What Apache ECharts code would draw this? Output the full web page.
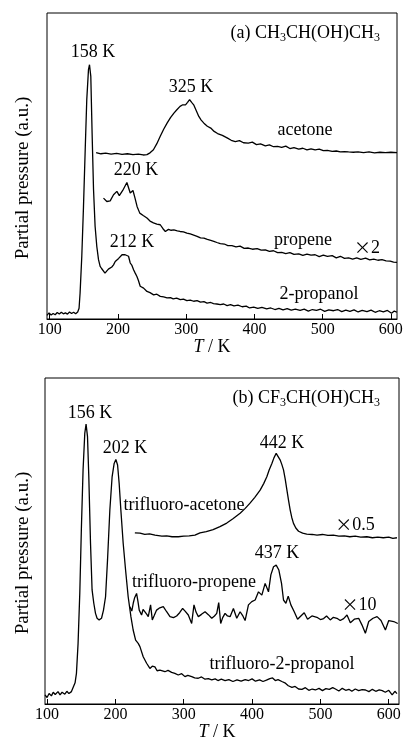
<!DOCTYPE html>
<html>
<head>
<meta charset="utf-8">
<title>TPD spectra</title>
<script src="https://cdn.jsdelivr.net/npm/echarts@6/dist/echarts.min.js"></script>
<style>
  html, body { margin: 0; padding: 0; background: #fff; }
  #chart { width: 408px; height: 748px; }
</style>
</head>
<body>
<div id="chart"></div>
<script>
// 横轴刻度
const tickValues = [100, 200, 300, 400, 500, 600];

// (a) CH3CH(OH)CH3 —— 温度 / 分压（任意单位）
const propanolT = [96, 99, 102, 105, 108, 111, 114, 117, 120, 123, 126, 129, 132, 135, 138, 141,
  143, 144.5, 147, 149.5, 152, 154.3, 156.8, 158.3, 160.2, 162.1, 164.2, 166.5, 169, 171.5, 173.9, 176, 178.8,
  181, 183.7, 186, 188.6, 191, 193.5, 196, 198.4, 201, 203.3, 206, 208.2, 210.5, 213.1, 215.5, 218, 220.5,
  222.9, 225.3, 227.8, 230, 232.6, 235, 237.6, 240, 242.5, 247, 252.3, 257, 262, 267, 271.9, 277, 281, 286,
  291.4, 296, 301, 306, 311, 316, 321, 326, 330.6, 336, 340, 345, 350, 355, 360, 365, 370, 376, 382, 388,
  393, 399, 405, 411, 418, 424, 430, 436, 442, 448, 454, 460, 467, 473, 479, 485, 491, 497, 503, 509, 516,
  522, 528, 534, 540, 546, 552, 558, 565, 571, 577, 583, 589, 595, 601, 605, 609];
const propanolP = [1.2, 2.0, 1.3, 1.8, 1.4, 2.1, 1.6, 2.2, 1.7, 2.0, 1.6, 2.3, 1.8, 2.2, 1.7, 2.3,
  3.5, 8.5, 20.5, 36.8, 55.3, 71.7, 81.5, 83.1, 79.3, 60.8, 42.3, 30.3, 23.7, 19.4, 17.2, 16.5, 16.1,
  15.0, 15.2, 16.3, 16.1, 17.0, 17.7, 18.8, 18.5, 19.8, 20.2, 21.0, 21.6, 21.0, 21.3, 20.5, 18.3, 17.5,
  16.1, 15.0, 13.9, 12.6, 10.7, 10.9, 10.1, 9.6, 9.0, 8.6, 7.9, 8.1, 7.4, 7.2, 6.9, 7.0, 6.6, 6.8,
  6.3, 6.5, 6.0, 6.2, 5.8, 6.0, 5.5, 5.7, 5.2, 5.4, 5.0, 4.9, 4.7, 4.9, 4.4, 4.7, 4.3, 4.5, 4.0, 4.2,
  3.6, 3.9, 3.5, 3.8, 3.3, 3.6, 3.1, 3.5, 3.0, 3.4, 2.9, 3.2, 2.8, 3.2, 2.6, 3.1, 2.8, 3.2, 2.5, 3.0, 2.7,
  3.1, 2.4, 2.9, 2.5, 3.0, 2.3, 2.8, 2.4, 2.9, 2.2, 2.7, 2.3, 2.8, 1.9, 2.6, 2.2];

const acetoneT = [168, 175, 182, 190, 198, 206, 214, 222, 230, 237, 242.5, 247, 252, 257, 262, 267, 272,
  277, 282, 286, 291, 295, 299, 302, 305, 308, 311, 315, 318.5, 322, 326, 331, 336, 341, 346, 353, 360,
  366, 372, 378, 384, 391, 397, 403, 409, 416, 422, 428, 434, 440, 446, 452, 458, 465, 471, 477, 483,
  489, 495, 501, 507, 514, 520, 526, 532, 538, 545, 552, 560, 568, 576, 584, 592, 600, 609];
const acetoneP = [54.4, 54.0, 54.2, 53.9, 54.1, 53.8, 54.0, 53.7, 53.9, 53.6, 53.7, 54.3, 55.3, 57.3,
  59.7, 62.0, 64.0, 65.8, 67.3, 68.3, 69.5, 70.0, 70.0, 70.8, 71.7, 70.8, 70.0, 68.0, 66.2, 65.0, 64.0,
  63.0, 62.4, 61.3, 60.6, 60.0, 59.2, 58.4, 58.0, 58.3, 57.6, 57.5, 57.8, 57.0, 57.2, 56.6, 56.9, 56.3,
  56.4, 56.1, 56.5, 55.7, 56.0, 55.5, 55.8, 55.3, 55.6, 55.3, 55.5, 55.0, 55.1, 54.8, 54.9, 54.6, 54.7,
  54.6, 54.5, 54.6, 54.4, 54.6, 54.3, 54.5, 54.4, 54.5, 54.4];

const propeneT = [178.8, 183.7, 188.6, 193.5, 198.4, 202, 207, 213.1, 218, 222, 225, 228, 232, 237,
  242.5, 247, 252, 257, 262, 266, 269.5, 274, 278, 282, 287, 291, 296, 301, 306, 311, 316, 321, 326, 331,
  336, 340.5, 345, 350, 356, 361, 367, 373, 379, 385, 391, 397, 404, 410, 416, 422, 428, 434, 440, 446,
  452, 458, 465, 471, 477, 483, 489, 495, 501, 507, 514, 520, 526, 532, 538, 544, 550, 556, 563, 569,
  575, 581, 587, 593, 599, 604, 609];
const propeneP = [39.5, 38.4, 38.6, 40.6, 41.7, 40.3, 42.0, 44.6, 41.2, 42.0, 39.5, 36.8, 34.6, 33.8,
  33.0, 32.0, 31.4, 31.0, 30.8, 29.5, 28.6, 29.3, 29.0, 29.1, 28.8, 28.6, 28.5, 28.1, 27.8, 27.4, 27.0,
  26.5, 26.4, 26.0, 25.7, 25.4, 25.0, 24.6, 24.5, 24.0, 24.0, 23.6, 23.8, 23.1, 23.2, 22.8, 23.0, 22.5,
  22.6, 22.1, 22.3, 21.7, 21.8, 21.4, 21.7, 21.1, 21.3, 20.8, 21.2, 20.9, 21.0, 20.4, 20.9, 20.5, 20.7,
  20.0, 20.5, 19.8, 20.0, 19.6, 20.0, 19.5, 19.9, 19.3, 19.6, 19.2, 19.4, 19.0, 18.9, 18.6, 18.5];

// (b) CF3CH(OH)CH3
const tfPropanolT = [97, 100, 103, 106.4, 109, 112, 116, 119, 122, 126, 129, 132, 135.7, 138, 141, 143,
  145.4, 147.9, 150.3, 152.7, 155.2, 157.1, 159.2, 161.1, 163.6, 165.9, 168.4, 170.9, 173.2, 176.2, 179.7,
  182.6, 185.6, 188.5, 191.9, 195.2, 198.2, 200.7, 203.2, 205.5, 208, 211.4, 214.9, 218.7, 222.7, 226,
  229.6, 233.4, 235.9, 238, 240.7, 245.7, 248, 250.5, 254, 257.8, 261, 265.2, 268, 272.5, 277, 282.3,
  287, 292, 297, 301.8, 306, 311.7, 316, 321.3, 326, 331.2, 336, 341, 346, 350, 355, 360.5, 366, 372,
  378, 384, 390, 395, 400, 405, 411, 416, 421, 426, 430, 434, 438, 443.6, 448, 453, 458.3, 463, 468,
  473, 478, 483, 488, 492.7, 498, 503, 508, 513, 518, 522, 527, 532, 537, 541.7, 546, 551, 556, 561,
  566, 571, 576, 581, 586, 590.5, 595, 600, 605, 609, 612];
const tfPropanolP = [2.8, 2.0, 3.2, 2.5, 3.6, 2.9, 3.8, 2.8, 3.6, 3.0, 3.9, 3.2, 3.8, 4.3, 6.5, 9.4,
  18.6, 34.0, 54.4, 71.8, 83.0, 85.9, 82.0, 69.7, 49.3, 35.0, 30.9, 27.8, 26.3, 25.8, 26.3,
  28.8, 32.9, 44.2, 59.5, 69.7, 73.8, 75.0, 73.3, 67.7, 59.5, 49.3, 41.1, 32.9, 26.8, 22.7,
  19.6, 18.6, 17.6, 18.2, 14.5, 12.5, 13.0, 10.9, 11.6, 11.4, 10.2, 10.4, 10.9, 9.9, 10.3, 9.7,
  9.4, 8.9, 9.3, 8.4, 8.8, 8.4, 8.0, 7.9, 8.3, 7.6, 7.8, 7.4, 7.7, 7.2, 7.6, 7.2, 7.5, 6.9,
  7.4, 7.0, 7.5, 7.2, 7.7, 7.0, 7.4, 6.9, 7.3, 7.8, 8.0, 7.2, 7.5, 6.9, 6.5, 5.6, 5.1, 5.4, 4.6,
  4.5, 5.0, 4.2, 4.6, 4.3, 4.8, 4.1, 4.7, 4.5, 5.0, 4.6, 4.0, 4.8, 4.2, 4.5, 3.9, 4.6, 4.1, 4.4,
  4.3, 3.8, 4.5, 3.9, 4.3, 4.1, 3.6, 4.2, 2.8, 3.9, 3.2];

const tfAcetoneT = [228.5, 236, 243, 250, 258, 268, 275, 283, 292, 300, 308, 316.4, 323.8, 333, 343,
  353, 363, 372, 382.5, 390, 397, 404, 411.8, 417, 421.6, 425, 429, 432, 435.3, 438, 441, 443.5, 446,
  448.5, 451, 453.5, 455.8, 458, 460.6, 464, 468, 474, 480, 488, 495, 503, 511, 519, 527, 535, 543,
  551, 559, 568, 576, 584, 592, 600, 606, 612];
const tfAcetoneP = [52.5, 52.4, 52.0, 52.2, 51.8, 51.5, 51.6, 51.3, 51.3, 51.5, 51.6, 51.8, 52.5, 52.9,
  53.5, 54.4, 55.5, 56.8, 58.5, 60.0, 61.6, 63.4, 65.6, 67.6, 69.7, 71.8, 73.8, 75.5, 76.9, 76.4, 74.9,
  73.5, 71.8, 69.0, 65.6, 62.3, 59.5, 57.3, 55.4, 54.0, 53.0, 52.4, 52.1, 52.0, 51.8, 52.0, 51.7, 51.8,
  51.5, 51.6, 51.3, 51.5, 51.2, 51.3, 51.0, 51.2, 51.0, 51.2, 50.8, 51.0];

const tfPropeneT = [221.2, 224, 226.1, 228, 231, 233, 234.9, 238.3, 240.5, 243.2, 246, 248.1, 251.5, 254,
  257, 260.3, 265, 270.1, 275, 279.9, 285, 289.6, 294, 298.4, 302, 306.7, 311.6, 315, 318, 321.4, 326,
  331.2, 336, 341, 345, 348.3, 351.2, 354.1, 357, 360.5, 364, 367.8, 372.7, 377.6, 382.5, 386, 389.8,
  394.7, 399.6, 404.5, 409.4, 414.3, 419.1, 424, 427.5, 431.4, 435.3, 439.2, 443.1, 446, 449.5, 452.9,
  456.8, 461.7, 466.6, 471.4, 476.3, 481.2, 487.6, 494.9, 500, 504.7, 509, 514.4, 519, 524.2, 529, 534,
  538.9, 543.8, 549.6, 556, 560.9, 565.8, 570.7, 577, 582.9, 588.7, 595.1, 600, 607.3, 613.2];
const tfPropeneP = [29.8, 28.5, 30.9, 32.5, 33.9, 31.5, 28.8, 27.3, 29.0, 29.3, 27.5, 26.8, 30.4, 25.8,
  27.2, 28.8, 29.5, 29.9, 28.3, 26.8, 26.5, 27.0, 28.0, 29.3, 28.5, 27.3, 24.7, 30.4, 28.2, 26.8, 27.5,
  28.3, 27.4, 26.3, 27.0, 27.8, 31.1, 24.7, 26.5, 27.8, 27.0, 26.8, 29.3, 26.3, 28.3, 27.2, 25.6,
  30.4, 31.4, 31.9, 34.4, 33.4, 37.0, 34.4, 39.6, 42.1, 42.6, 41.1, 37.0, 31.9, 30.9, 33.1,
  30.4, 28.3, 26.0, 27.0, 28.0, 26.0, 27.0, 26.6, 25.9, 26.2, 27.0, 25.8, 26.6, 26.3, 25.6, 26.2,
  27.3, 24.9, 26.0, 26.3, 24.2, 21.7, 25.3, 26.3, 26.8, 25.6, 22.7, 25.6, 25.3, 24.7];

const FONT = '"Liberation Serif", "DejaVu Serif", serif';
const CJK = '"Noto Sans CJK SC", sans-serif';

function pairs(xs, ys) {
    return xs.map((x, i) => [x, ys[i]]);
}

function curve(grid, xs, ys) {
    return {
        type: 'line',
        xAxisIndex: grid,
        yAxisIndex: grid,
        data: pairs(xs, ys),
        showSymbol: false,
        symbol: 'none',
        smooth: false,
        lineStyle: { color: '#000', width: 1.3 },
        silent: true
    };
}

function xAxisFor(grid, min, max) {
    return {
        type: 'value',
        gridIndex: grid,
        min: min,
        max: max,
        splitLine: { show: false },
        axisLine: { show: true, lineStyle: { color: '#000', width: 1 } },
        axisTick: { show: true, inside: true, length: 5, customValues: tickValues, lineStyle: { color: '#000' } },
        axisLabel: { customValues: tickValues, color: '#000', fontFamily: FONT, fontSize: 16, margin: 3 }
    };
}

function yAxisFor(grid) {
    return { type: 'value', gridIndex: grid, min: 0, max: 100, show: false };
}

// 文字标注（像素位置）
function label(x, y, text, size, extra) {
    return {
        type: 'text',
        x: x,
        y: y,
        silent: true,
        style: Object.assign({
            text: text,
            fill: '#000',
            font: (size || 18) + 'px ' + FONT,
            align: 'center',
            verticalAlign: 'middle'
        }, extra || {})
    };
}

const subRich = {
    m: { fontFamily: FONT, fontSize: 18, lineHeight: 22 },
    s: { fontFamily: FONT, fontSize: 12, verticalAlign: 'bottom' },
    i: { fontFamily: FONT, fontSize: 18, fontStyle: 'italic', lineHeight: 22 },
    x: { fontFamily: CJK, fontSize: 17, lineHeight: 22 }
};

function formula(xRight, y, text) {
    return label(xRight, y, text, 18, { align: 'right', rich: subRich });
}

// 倍率标记（×2 等）
function factor(x, y, num) {
    return label(x, y, '{x|\u00d7}{m|' + num + '}', 18, { rich: subRich });
}

function yTitle(x, y) {
    const t = label(0, 0, 'Partial pressure (a.u.)', 19);
    t.x = x;
    t.y = y;
    t.rotation = Math.PI / 2;
    return t;
}

const chart = echarts.init(document.getElementById('chart'), null, { renderer: 'canvas' });

const option = {
    animation: false,
    backgroundColor: '#fff',
    grid: [
        { left: 47, top: 13, width: 350, height: 306, show: true, borderColor: '#000', borderWidth: 1 },
        { left: 45, top: 378, width: 354, height: 326, show: true, borderColor: '#000', borderWidth: 1 }
    ],
    xAxis: [xAxisFor(0, 96, 609), xAxisFor(1, 97, 615)],
    yAxis: [yAxisFor(0), yAxisFor(1)],
    series: [
        curve(0, propanolT, propanolP),
        curve(0, acetoneT, acetoneP),
        curve(0, propeneT, propeneP),
        curve(1, tfPropanolT, tfPropanolP),
        curve(1, tfAcetoneT, tfAcetoneP),
        curve(1, tfPropeneT, tfPropeneP)
    ],
    graphic: [
        // (a)
        formula(380, 33, '{m|(a) CH}{s|3}{m|CH(OH)CH}{s|3}'),
        label(93, 52, '158 K'),
        label(191, 87, '325 K'),
        label(305, 130, 'acetone'),
        label(136, 170, '220 K'),
        label(303, 240, 'propene'),
        factor(367, 248, '2'),
        label(132, 242, '212 K'),
        label(319, 294, '2-propanol'),
        label(212, 347, '{i|T}{m| / K}', 18, { rich: subRich }),
        yTitle(23, 178),
        // (b)
        formula(380, 398, '{m|(b) CF}{s|3}{m|CH(OH)CH}{s|3}'),
        label(90, 413, '156 K'),
        label(125, 448, '202 K'),
        label(282, 443, '442 K'),
        label(184, 505, 'trifluoro-acetone'),
        factor(355, 525, '0.5'),
        label(277, 553, '437 K'),
        label(194, 582, 'trifluoro-propene'),
        factor(359, 605, '10'),
        label(282, 664, 'trifluoro-2-propanol'),
        label(217, 732, '{i|T}{m| / K}', 18, { rich: subRich }),
        yTitle(23, 553)
    ]
};

chart.setOption(option);
</script>
</body>
</html>
